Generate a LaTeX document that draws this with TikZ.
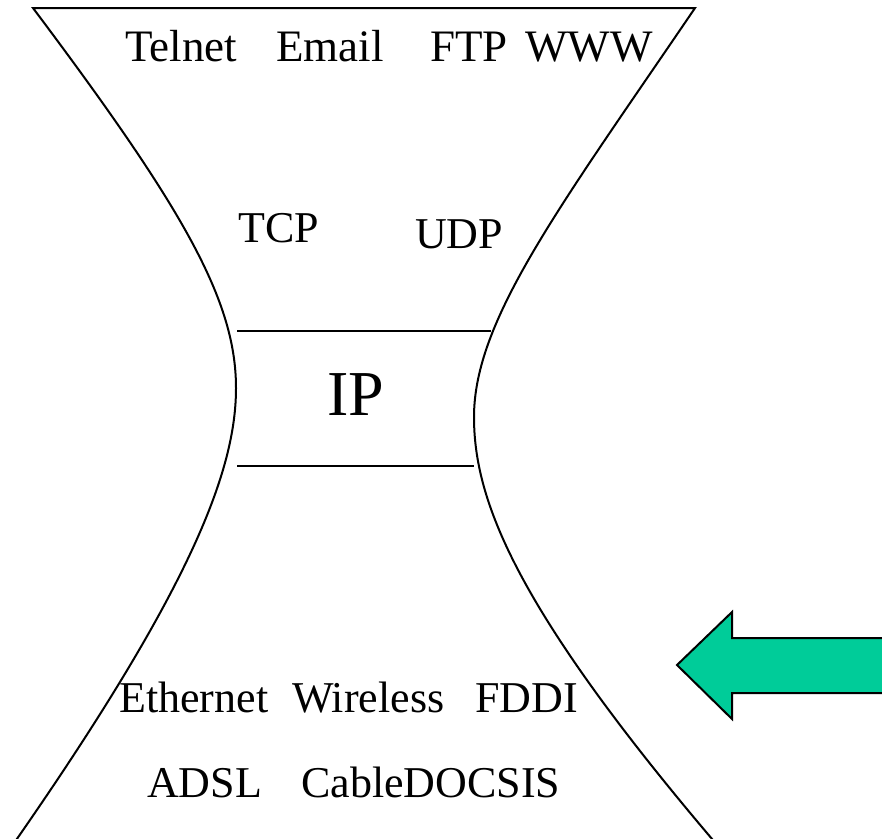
\documentclass[tikz,border=0pt]{standalone}
\usepackage{fontspec}
\setmainfont{Liberation Serif}
\definecolor{arrowgreen}{HTML}{00CC99}
\begin{document}
\begin{tikzpicture}[x=1pt,y=-1pt,
  outline/.style={line width=2pt, line join=miter},
  word/.style={anchor=base west, inner sep=0pt, font=\fontsize{44}{44}\selectfont},
  topword/.style={word, font=\fontsize{45}{45}\selectfont},
  bigword/.style={anchor=base west, inner sep=0pt, font=\fontsize{64}{64}\selectfont}]
\useasboundingbox (0,0) rectangle (882,838);

% hourglass outline
\coordinate (tl) at (33,8);
\coordinate (tr) at (695,8);
\coordinate (wl) at (236,388);
\coordinate (wr) at (474,417);
\coordinate (bl) at (12,846);
\coordinate (br) at (718,846);
\draw[outline] (bl) .. controls (192,588) and (236,470) .. (wl)
  .. controls (236,300) and (183,208) .. (tl) -- (tr)
  .. controls (559,208) and (474,320) .. (wr)
  .. controls (474,500) and (515,608) .. (br);

% the IP band
\coordinate (ipa) at (237,331);
\coordinate (ipb) at (491,331);
\coordinate (ipc) at (237,466);
\coordinate (ipd) at (474,466);
\draw[outline] (ipa) -- (ipb);
\draw[outline] (ipc) -- (ipd);

% application layer
\node[topword] (telnet) at (125,61) {Telnet};
\node[topword] (email) at (276,61) {Email};
\node[topword] (ftp) at (430,61) {FTP};
\node[topword] (www) at (525,61) {WWW};

% transport layer
\node[word] (tcp) at (238,242) {TCP};
\node[word] (udp) at (415,248) {UDP};

% network layer
\node[bigword] (ip) at (327,415) {IP};

% link layer
\node[word] (eth) at (119,712) {Ethernet};
\node[word] (wlan) at (292,712) {Wireless};
\node[word] (fddi) at (475,712) {FDDI};
\node[word] (adsl) at (147,797) {ADSL};
\node[word] (cable) at (301,797) {CableDOCSIS};

% block arrow
\coordinate (tip) at (677,665);
\coordinate (ht) at (732,612);
\coordinate (st) at (732,638);
\coordinate (se) at (892,638);
\coordinate (sf) at (892,693);
\coordinate (sb) at (732,693);
\coordinate (hb) at (732,719);
\draw[line width=2pt, line join=miter, fill=arrowgreen]
  (tip) -- (ht) -- (st) -- (se) -- (sf) -- (sb) -- (hb) -- cycle;
\end{tikzpicture}
\end{document}
